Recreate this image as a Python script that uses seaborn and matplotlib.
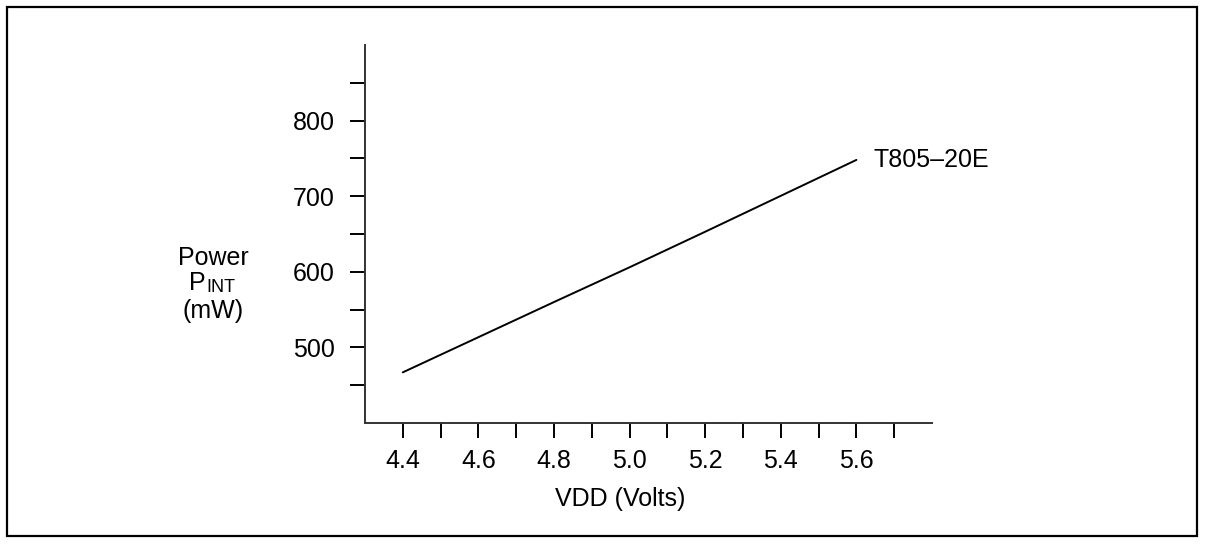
import matplotlib
matplotlib.use("Agg")
import matplotlib.pyplot as plt
from matplotlib.patches import Rectangle
from matplotlib.ticker import FixedLocator
import seaborn as sns
import pandas as pd

# Data
vdd_volts = [4.4, 4.8, 5.0, 5.2, 5.6]
power_mw = [467, 560, 606, 653, 748]
series_name = "T805\u201320E"

x_major = [4.4, 4.6, 4.8, 5.0, 5.2, 5.4, 5.6]
x_minor = [4.5, 4.7, 4.9, 5.1, 5.3, 5.5, 5.7]
y_major = [500, 600, 700, 800]
y_minor = [450, 550, 650, 750, 850]

sns.set_theme(style="ticks")
plt.rcParams["font.family"] = ["Liberation Sans", "DejaVu Sans"]
plt.rcParams["text.color"] = "black"
plt.rcParams["axes.labelcolor"] = "black"
plt.rcParams["xtick.color"] = "black"
plt.rcParams["ytick.color"] = "black"

FS = 18
W, H = 1206, 544
fig = plt.figure(figsize=(W / 100, H / 100), dpi=100)
ax = fig.add_axes([365 / W, 1 - 423 / H, (932 - 365) / W, (423 - 45) / H])

df = pd.DataFrame({"VDD": vdd_volts, "Power": power_mw})
sns.lineplot(data=df, x="VDD", y="Power", ax=ax, color="black", linewidth=1.4)

ax.set_xlim(4.3, 5.8)
ax.set_ylim(400, 900)
sns.despine(ax=ax)
for s in ["left", "bottom"]:
    ax.spines[s].set_linewidth(1.4)
    ax.spines[s].set_color("#333333")

ax.xaxis.set_major_locator(FixedLocator(x_major))
ax.xaxis.set_minor_locator(FixedLocator(x_minor))
ax.yaxis.set_major_locator(FixedLocator(y_major))
ax.yaxis.set_minor_locator(FixedLocator(y_minor))
ax.set_xticklabels([f"{v:.1f}" for v in x_major])
ax.set_yticklabels([str(v) for v in y_major])
ax.tick_params(which="both", direction="out", length=11, width=1.4, color="black")
ax.tick_params(axis="x", which="major", pad=8, labelsize=FS, labelcolor="black")
ax.tick_params(axis="y", which="major", pad=11, labelsize=FS, labelcolor="black")

ax.set_xlabel("VDD (Volts)", fontsize=FS, color="black")
ax.xaxis.set_label_coords((620 - 365) / 567, -(487 - 423) / 378)
ax.set_ylabel("")

ax.text(5.645, 748, series_name, fontsize=FS, ha="left", va="center", color="black")

cx = 213
fig.text(cx / W, 1 - 258 / H, "Power", fontsize=FS, ha="center", va="center")
fig.text(189 / W, 1 - 283 / H, "P", fontsize=FS, ha="left", va="center")
fig.text(206 / W, 1 - 288 / H, "INT", fontsize=13, ha="left", va="center")
fig.text(cx / W, 1 - 311 / H, "(mW)", fontsize=FS, ha="center", va="center")

fig.patches.append(Rectangle((7 / W, 1 - 536 / H), (1197 - 7) / W, (536 - 7) / H,
                             transform=fig.transFigure, fill=False,
                             edgecolor="black", linewidth=1.6))

fig.savefig("out.png", dpi=100)
